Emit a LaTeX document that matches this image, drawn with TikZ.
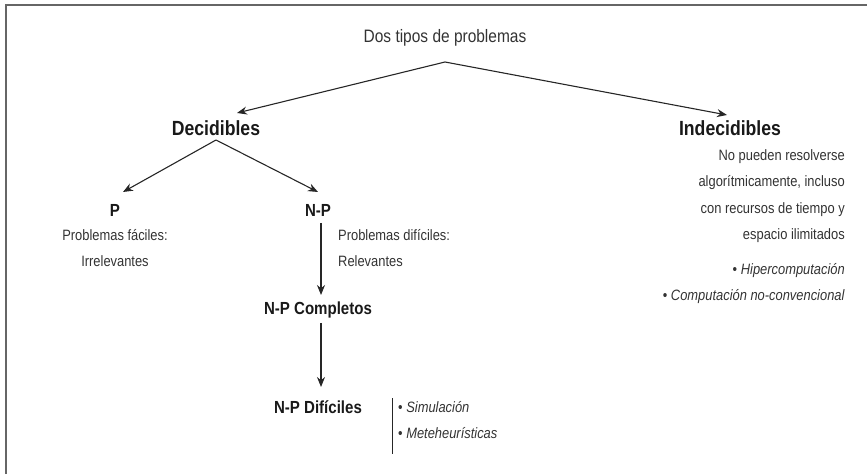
\documentclass[tikz,border=0pt]{standalone}
\usepackage{fontspec}
\setmainfont{Liberation Sans}[FakeStretch=0.86]
\usepackage{tikz}
\usetikzlibrary{arrows.meta,positioning}

\tikzset{
  head/.style={font=\fontsize{20.5}{24}\selectfont\bfseries,text=black!90,inner sep=0pt},
  subhead/.style={font=\fontsize{17.5}{20}\selectfont\bfseries,text=black!90,inner sep=0pt},
  desc/.style={font=\fontsize{15}{26.5}\selectfont,text=black!80,inner sep=0pt},
  arr/.style={-{Stealth[length=10pt,width=8pt]},line width=1.1pt,black!85},
}

\begin{document}
\begin{tikzpicture}[x=1pt,y=1pt]
%
\useasboundingbox (0,0) rectangle (867,474);
%
\definecolor{cframe}{rgb}{0.4,0.4,0.4}
%
\draw[cframe,line width=2pt] (6,0) -- (6,469) -- (867,469);
%
\node[desc,font=\fontsize{18}{20}\selectfont] (title) at (445,436) {Dos tipos de problemas};
\coordinate (top) at (445,412);
%
\node[head] (dec) at (216,346) {Decidibles};
\node[head] (indec) at (730,346) {Indecidibles};
\coordinate (dtop) at (216,334);
%
\node[subhead] (p) at (115,264) {P};
\node[subhead] (np) at (318,264) {N-P};
\node[desc,align=center] (pdesc) at (115,226) {Problemas fáciles:\\Irrelevantes};
\node[desc,align=left,anchor=west] (npdesc) at (338,226) {Problemas difíciles:\\Relevantes};
%
\node[subhead] (npc) at (318,164) {N-P Completos};
\node[subhead] (npd) at (318,67) {N-P Difíciles};
\node[desc,align=left,anchor=west,inner xsep=6pt] (hlist) at (392,54)
  {\textbullet\ \textit{Simulación}\\\textbullet\ \textit{Meteheurísticas}};
\draw[line width=1pt,black!85] (hlist.west |- 0,76) -- (hlist.west |- 0,20);
%
\node[desc,align=right,anchor=east] (indesc) at (845,278)
  {No pueden resolverse\\algorítmicamente, incluso\\con recursos de tiempo y\\espacio ilimitados};
\node[desc,align=right,anchor=east] (ilist) at (845,190.5)
  {\textbullet\ \textit{Hipercomputación}\\\textbullet\ \textit{Computación no-convencional}};
%
\draw[arr] (top) -- ([xshift=21pt,yshift=15pt]dec.center);
\draw[arr] (top) -- ([xshift=-3pt,yshift=13pt]indec.center);
\draw[arr] (dtop) -- ([xshift=8pt,yshift=18pt]p.center);
\draw[arr] (dtop) -- ([yshift=18pt]np.center);
\draw[arr] ([xshift=3pt,yshift=-13pt]np.center) -- ([xshift=3pt,yshift=15pt]npc.center);
\draw[arr] ([xshift=3pt,yshift=-13pt]npc.center) -- ([xshift=3pt,yshift=20pt]npd.center);
%
\end{tikzpicture}
\end{document}
